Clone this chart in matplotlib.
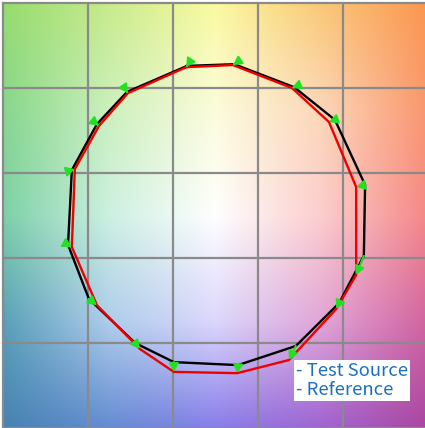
import numpy as np
import matplotlib
matplotlib.use("Agg")
import matplotlib.pyplot as plt

# --- data (a*, b*-like coordinates) ---
test_a = [-6.7, 4.4, 18.5, 28.1, 35.2, 34.9, 29.1, 18.9, 5.3, -9.8, -18.9, -29.8, -34.7, -33.8, -27.9, -20.8]
test_b = [35.2, 35.6, 30.2, 22.5, 7.2, -9.5, -20.6, -30.7, -35.2, -34.5, -30.0, -19.6, -6.9, 10.7, 21.5, 29.1]
ref_a = [-6.9, 4.1, 18.0, 26.7, 33.1, 33.1, 28.4, 17.3, 5.1, -9.8, -17.8, -27.9, -33.8, -33.1, -27.4, -20.6]
ref_b = [34.9, 35.4, 30.0, 22.0, 6.7, -14.0, -22.0, -34.0, -37.1, -36.8, -31.4, -21.1, -7.4, 10.9, 21.1, 28.8]
grid_ticks = [-30, -10, 10, 30]
legend_labels = ["- Test Source", "- Reference"]

# background colour nodes (5x5, top row first)
bg_nodes = np.array([
    [[150, 220, 110], [200, 235, 140], [250, 250, 160], [250, 200, 120], [250, 150, 80]],
    [[135, 215, 140], [205, 240, 190], [252, 252, 220], [252, 215, 185], [250, 150, 110]],
    [[125, 208, 168], [205, 240, 225], [255, 255, 255], [252, 205, 205], [245, 135, 135]],
    [[90, 160, 185], [175, 205, 235], [220, 215, 252], [225, 165, 215], [210, 100, 160]],
    [[70, 130, 178], [100, 140, 210], [135, 125, 235], [160, 100, 210], [170, 70, 160]],
], dtype=float) / 255.0

W, H = 425, 428
fig = plt.figure(figsize=(W / 100, H / 100), dpi=100)
fig.patch.set_facecolor("white")
ax = fig.add_axes([3 / W, 0, 425 / W, 425 / H])

# build smooth background by bilinear interpolation of the nodes
n = 400
k = bg_nodes.shape[0] - 1
t = np.linspace(0, k, n)
yy, xx = np.meshgrid(t, t, indexing="ij")
i0 = np.clip(np.floor(yy).astype(int), 0, k - 1)
j0 = np.clip(np.floor(xx).astype(int), 0, k - 1)
fy = (yy - i0)[..., None]
fx = (xx - j0)[..., None]
img = (bg_nodes[i0, j0] * (1 - fy) * (1 - fx) + bg_nodes[i0, j0 + 1] * (1 - fy) * fx
       + bg_nodes[i0 + 1, j0] * fy * (1 - fx) + bg_nodes[i0 + 1, j0 + 1] * fy * fx)
ax.imshow(img, extent=[-50, 50, -50, 50], origin="upper", interpolation="bilinear", zorder=0, aspect="auto")

for g in grid_ticks:
    ax.axvline(g, color="#8a8a8a", lw=1.6, zorder=1)
    ax.axhline(g, color="#8a8a8a", lw=1.6, zorder=1)

ta = test_a + [test_a[0]]
tb = test_b + [test_b[0]]
ra = ref_a + [ref_a[0]]
rb = ref_b + [ref_b[0]]
ax.plot(ta, tb, color="black", lw=1.7, zorder=3)
ax.plot(ra, rb, color="#ee0000", lw=1.7, zorder=4)

for x0, y0, x1, y1 in zip(test_a, test_b, ref_a, ref_b):
    ax.annotate("", xy=(x1, y1), xytext=(x0, y0),
                arrowprops=dict(arrowstyle="-|>,head_length=0.5,head_width=0.28",
                                color="#22e022", lw=1.5, shrinkA=0, shrinkB=0),
                zorder=5)

ax.text(0.689, 0.156, "\n".join(legend_labels), transform=ax.transAxes,
        fontsize=13.3, color="#1e6fbe", family=["Noto Sans CJK TC", "DejaVu Sans"],
        va="top", ha="left", linespacing=1.12,
        bbox=dict(facecolor="white", edgecolor="none", pad=1.5), zorder=6)

ax.set_xlim(-50, 50)
ax.set_ylim(-50, 50)
ax.set_xticks([])
ax.set_yticks([])
for s in ax.spines.values():
    s.set_color("#8a8a8a")
    s.set_linewidth(1.6)

fig.savefig("out.png", dpi=100, facecolor="white")
